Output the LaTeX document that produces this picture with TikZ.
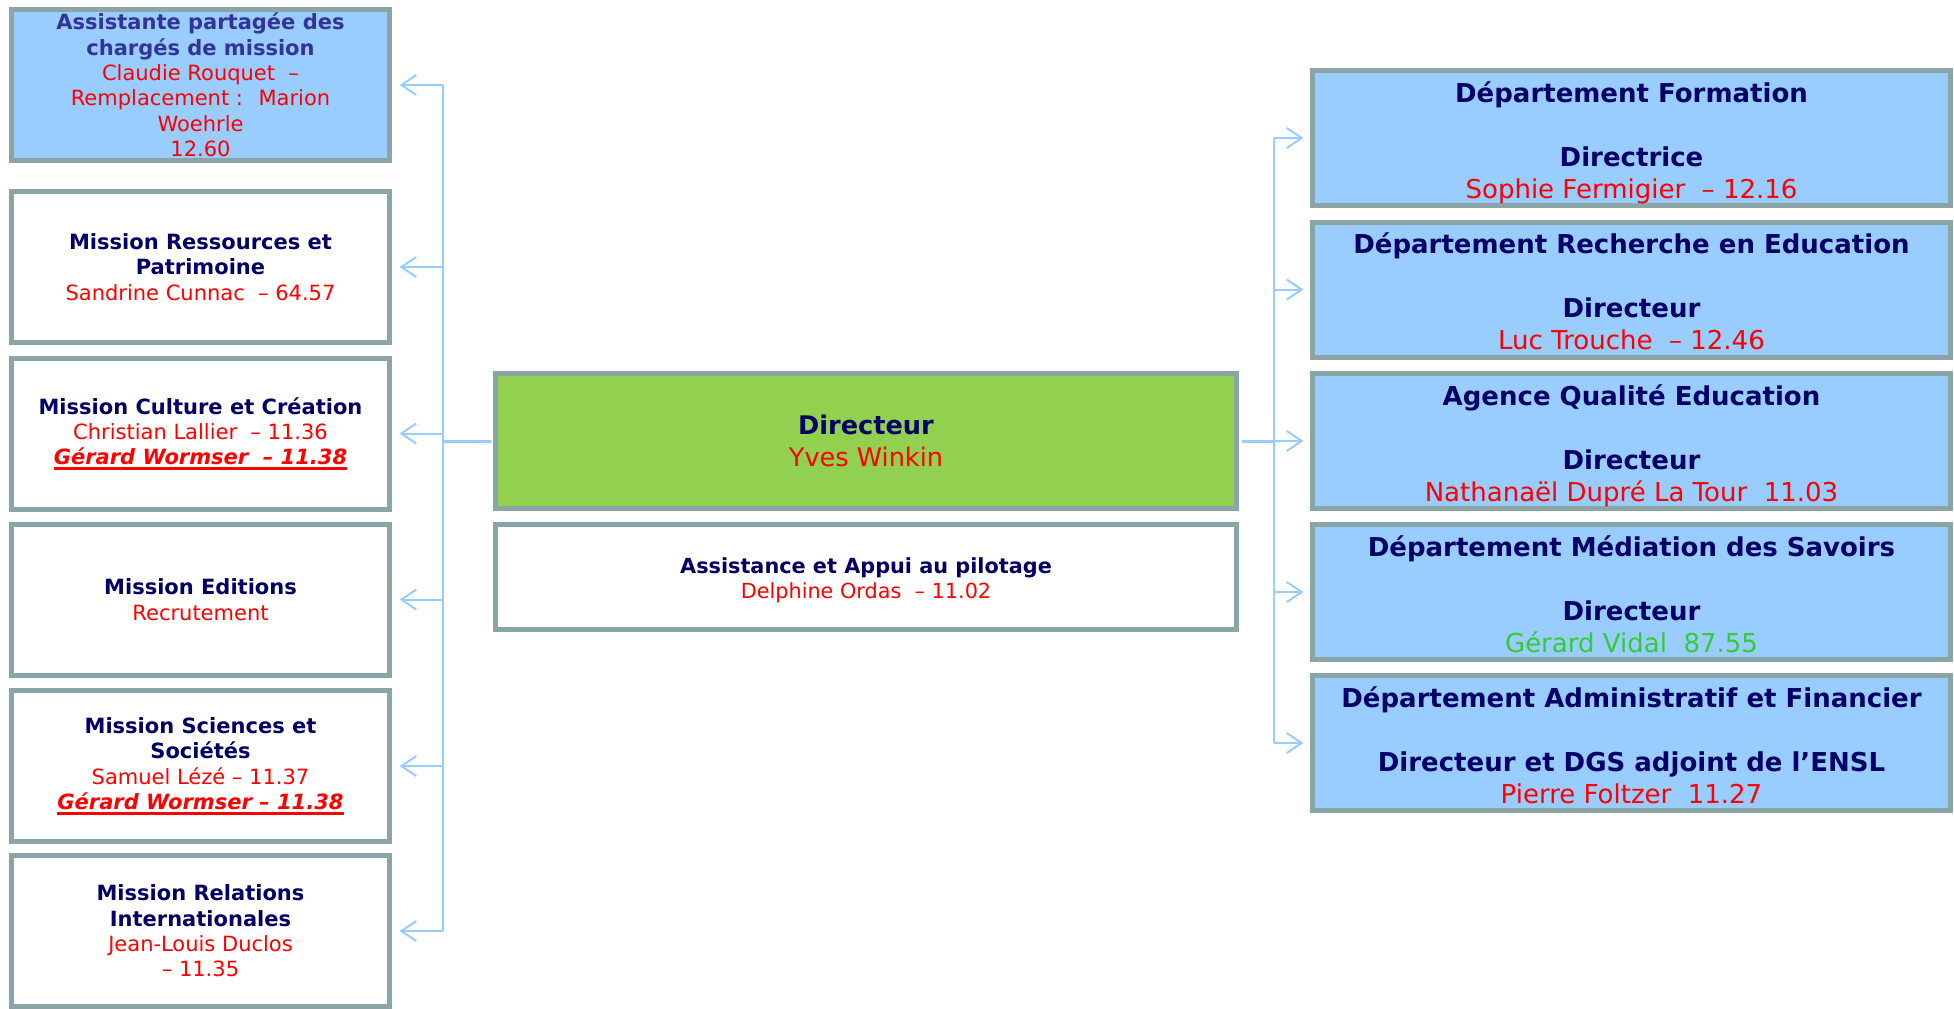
\documentclass[tikz,border=0pt]{standalone}
\usepackage{fontspec}
\setmainfont{DejaVu Sans}[ItalicFont={DejaVu Sans Oblique},BoldItalicFont={DejaVu Sans Bold Oblique}]
\usetikzlibrary{arrows.meta}

\definecolor{edgegray}{RGB}{139,165,166}
\definecolor{skyfill}{RGB}{153,204,255}
\definecolor{leaf}{RGB}{146,208,80}
\definecolor{navy}{RGB}{0,0,102}
\definecolor{slateblue}{RGB}{51,51,153}
\definecolor{namered}{RGB}{255,0,0}
\definecolor{namegreen}{RGB}{51,204,51}
\definecolor{wireblue}{RGB}{153,204,255}

% text helpers
\newcommand\headline[1]{\textbf{#1}}
\newcommand\person[1]{\textcolor{namered}{#1}}
\newcommand\ulname[1]{\setbox0=\hbox{#1}\rlap{\rule[-5bp]{\wd0}{2.5bp}}\box0}
\newcommand\lift[1]{\rule{0pt}{#1}}
\newcommand\sink[1]{\rule[-#1]{0pt}{#1}}

\tikzset{
  box/.style={draw=edgegray, line width=5bp, inner sep=0pt, align=center, text=navy},
  lbox/.style={box, fill=white, minimum width=378bp, minimum height=151bp,
    font=\fontsize{21bp}{25.4bp}\selectfont},
  rbox/.style={box, fill=skyfill, minimum width=638bp, minimum height=135bp,
    font=\fontsize{26bp}{32bp}\selectfont},
  wire/.style={draw=wireblue, line width=2bp},
  arr/.style={wire, -{Straight Barb[length=15bp,width=20bp]}},
}

\begin{document}
\begin{tikzpicture}[x=1bp,y=-1bp]
\useasboundingbox (0,0) rectangle (1954,1008);

% left column: missions
\node[lbox, fill=skyfill] (lb1) at (200.5,85) {%
  \textcolor{slateblue}{\headline{Assistante partagée des}}\\
  \textcolor{slateblue}{\headline{chargés de mission}}\\
  \person{Claudie Rouquet~ –}\\
  \person{Remplacement~:~ Marion}\\
  \person{Woehrle}\\
  \person{12.60}};
\node[lbox] (lb2) at (200.5,267) {%
  \headline{Mission Ressources et}\\
  \headline{Patrimoine}\\
  \person{Sandrine Cunnac~ – 64.57}};
\node[lbox] (lb3) at (200.5,433.5) {%
  \headline{Mission Culture et Création}\\
  \person{Christian Lallier~ – 11.36}\\
  \person{\ulname{\textbf{\textit{Gérard Wormser~ – 11.38}}}}};
\node[lbox] (lb4) at (200.5,599.5) {%
  \headline{Mission Editions}\\
  \person{Recrutement}};
\node[lbox] (lb5) at (200.5,766) {%
  \headline{Mission Sciences et}\\
  \headline{Sociétés}\\
  \person{Samuel Lézé – 11.37}\\
  \person{\ulname{\textbf{\textit{Gérard Wormser – 11.38}}}}};
\node[lbox] (lb6) at (200.5,931) {%
  \headline{Mission Relations}\\
  \headline{Internationales}\\
  \person{Jean-Louis Duclos}\\
  \person{– 11.35}};

% centre: direction
\node[box, fill=leaf, minimum width=741bp, minimum height=135bp,
      font=\fontsize{25.6bp}{32bp}\selectfont] (dir) at (866,441) {%
  \headline{Directeur}\\
  \person{Yves Winkin}};
\node[box, fill=white, minimum width=741bp, minimum height=105bp,
      font=\fontsize{20.8bp}{25bp}\selectfont] (aap) at (866,577) {%
  \lift{22bp}\headline{Assistance et Appui au pilotage}\\
  \person{Delphine Ordas~ – 11.02}};

% right column: departments
\node[rbox] (rb1) at (1631.5,138) {%
  \lift{30bp}\headline{Département Formation}\\[32bp]
  \headline{Directrice}\\
  \person{Sophie Fermigier~ – 12.16}\sink{6bp}};
\node[rbox] (rb2) at (1631.5,289.5) {%
  \lift{30bp}\headline{Département Recherche en Education}\\[32bp]
  \headline{Directeur}\\
  \person{Luc Trouche~ – 12.46}\sink{6bp}};
\node[rbox] (rb3) at (1631.5,441) {%
  \lift{30bp}\headline{Agence Qualité Education}\\[32bp]
  \headline{Directeur}\\
  \person{Nathanaël Dupré La Tour~ 11.03}\sink{6bp}};
\node[rbox] (rb4) at (1631.5,592) {%
  \lift{30bp}\headline{Département Médiation des Savoirs}\\[32bp]
  \headline{Directeur}\\
  \textcolor{namegreen}{Gérard Vidal~ 87.55}\sink{6bp}};
\node[rbox] (rb5) at (1631.5,743) {%
  \lift{30bp}\headline{Département Administratif et Financier}\\[32bp]
  \headline{Directeur et DGS adjoint de l’ENSL}\\
  \person{Pierre Foltzer~ 11.27}\sink{6bp}};

% connectors
\coordinate (lbus) at (443,441);
\coordinate (rbus) at (1274,441);

\draw[wire] (lb1.east -| lbus) -- (lb6.east -| lbus);
\draw[wire, line width=3bp, shorten <=2.5bp] (dir.west) -- (lbus);
\foreach \b in {lb1,lb2,lb3,lb4,lb5,lb6}
  \draw[arr, shorten >=7.5bp] (\b.east -| lbus) -- (\b.east);

\draw[wire] (rb1.west -| rbus) -- (rb5.west -| rbus);
\draw[wire, line width=3bp, shorten <=2.5bp] (dir.east) -- (rbus);
\foreach \b in {rb1,rb2,rb3,rb4,rb5}
  \draw[arr, shorten >=6.5bp] (\b.west -| rbus) -- (\b.west);
\end{tikzpicture}
\end{document}
